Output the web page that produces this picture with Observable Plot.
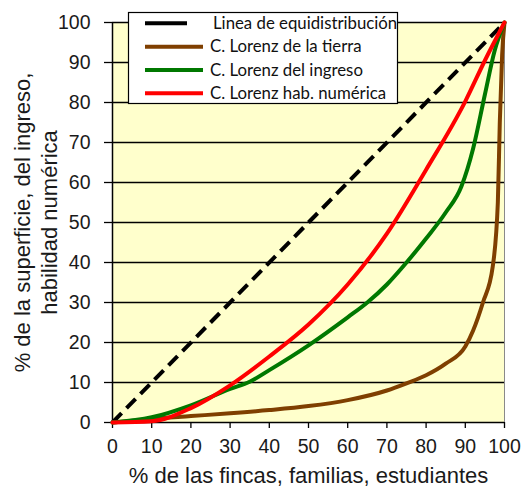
<!DOCTYPE html>
<html>
<head>
<meta charset="utf-8">
<script src="https://cdn.jsdelivr.net/npm/d3@7"></script>
<script src="https://cdn.jsdelivr.net/npm/@observablehq/plot@0.6"></script>
<style>
  html, body { margin: 0; padding: 0; background: #ffffff; }
  #wrap { position: relative; width: 523px; height: 487px; }
  #legend { position: absolute; left: 0; top: 0; }
</style>
</head>
<body>
<div id="wrap"></div>
<script>
// ---- data ----
const ticks = [0, 10, 20, 30, 40, 50, 60, 70, 80, 90, 100];
const gridY = [10, 20, 30, 40, 50, 60, 70, 80, 90, 100];

const equiX = [0, 100];
const equiY = [0, 100];

const tierraX = [0, 10, 20, 30, 40, 50, 60, 70, 75, 80, 85, 90, 92, 94.5, 97, 98.3, 98.8, 99.4, 100];
const tierraY = [0, 0.9, 1.6, 2.3, 3.1, 4.1, 5.6, 8, 9.8, 11.8, 14.7, 19, 23, 30, 39, 55, 75, 92, 100];

const ingresoX = [0, 10, 20, 30, 35, 40, 50, 60, 65, 70, 75, 80, 85, 89, 92, 95, 97.5, 100];
const ingresoY = [0, 1.3, 4.3, 8.4, 10.2, 13.1, 19.3, 26.3, 30, 34.5, 40, 46, 52.5, 59, 68.5, 82, 93, 100];

const habX = [0, 10, 20, 30, 40, 50, 60, 70, 80, 90, 95, 100];
const habY = [0, 0.3, 3.6, 9.3, 16.5, 24.5, 34.5, 47.2, 63.2, 80.3, 90.5, 100];

const seriesNames = ["Linea de equidistribución", "C. Lorenz de la tierra", "C. Lorenz del ingreso", "C. Lorenz hab. numérica"];
const seriesColors = ["#000000", "#7f3f00", "#007800", "#ff0000"];

const xTitle = "% de las fincas, familias, estudiantes";
const yTitle = "% de la superficie, del ingreso,\nhabilidad numérica";

// ---- build tables ----
const toRows = (xs, ys) => xs.map((x, i) => ({x, y: ys[i]}));
const equi = toRows(equiX, equiY);
const tierra = toRows(tierraX, tierraY);
const ingreso = toRows(ingresoX, ingresoY);
const hab = toRows(habX, habY);

const plot = Plot.plot({
  width: 523,
  height: 487,
  marginLeft: 112,
  marginRight: 19,
  marginTop: 22,
  marginBottom: 65,
  style: {fontFamily: "'Liberation Sans', Arial, sans-serif", color: "#1a1a1a", background: "transparent", overflow: "visible"},
  x: {domain: [0, 100]},
  y: {domain: [0, 100]},
  marks: [
    Plot.frame({fill: "#ffffcc", stroke: "#8a8a8a", strokeWidth: 1}),
    Plot.ruleY(gridY, {stroke: "#000", strokeWidth: 1.3}),
    Plot.ruleX([0], {stroke: "#000", strokeWidth: 1.5}),
    Plot.ruleY([0], {stroke: "#000", strokeWidth: 1.5}),
    Plot.axisY({ticks: ticks, tickSize: 8, tickPadding: 14, fontSize: 19.5, label: null, stroke: "#000", strokeWidth: 1.3}),
    Plot.axisX({ticks: ticks, tickSize: 6, tickPadding: 11, fontSize: 19.5, label: null, stroke: "#000", strokeWidth: 1.3}),
    Plot.line(equi, {x: "x", y: "y", stroke: seriesColors[0], strokeWidth: 4, strokeDasharray: "13,7", strokeLinecap: "butt"}),
    Plot.line(tierra, {x: "x", y: "y", stroke: seriesColors[1], strokeWidth: 4, curve: "monotone-x"}),
    Plot.line(ingreso, {x: "x", y: "y", stroke: seriesColors[2], strokeWidth: 4, curve: "monotone-x"}),
    Plot.line(hab, {x: "x", y: "y", stroke: seriesColors[3], strokeWidth: 4, curve: "monotone-x"}),
    Plot.text([xTitle], {frameAnchor: "bottom", textAnchor: "middle", lineAnchor: "top", dy: 45, fontSize: 22, fill: "#1a1a1a"}),
    Plot.text([yTitle], {frameAnchor: "left", textAnchor: "middle", lineAnchor: "top", rotate: -90, dx: -102, fontSize: 22, lineHeight: 1.23, fill: "#1a1a1a"})
  ]
});

const wrap = document.getElementById("wrap");
wrap.appendChild(plot);

// ---- legend overlay ----
const leg = d3.select(wrap).append("svg")
  .attr("id", "legend")
  .attr("width", 523).attr("height", 487)
  .style("pointer-events", "none");
leg.append("rect")
  .attr("x", 128.5).attr("y", 12.5).attr("width", 269).attr("height", 91)
  .attr("fill", "#fff").attr("stroke", "#000").attr("stroke-width", 1.2);
const rowY = [23.3, 46.7, 70, 93.3];
seriesNames.forEach((name, i) => {
  leg.append("line")
    .attr("x1", 145).attr("x2", i === 0 ? 187 : 203)
    .attr("y1", rowY[i]).attr("y2", rowY[i])
    .attr("stroke", seriesColors[i]).attr("stroke-width", 4);
  leg.append("text")
    .attr("x", i === 0 ? 213 : 210).attr("y", rowY[i] + 5.5)
    .attr("font-family", "Lato, 'Open Sans', sans-serif")
    .attr("font-size", 16.8)
    .attr("fill", "#111")
    .text(name);
});
</script>
</body>
</html>
